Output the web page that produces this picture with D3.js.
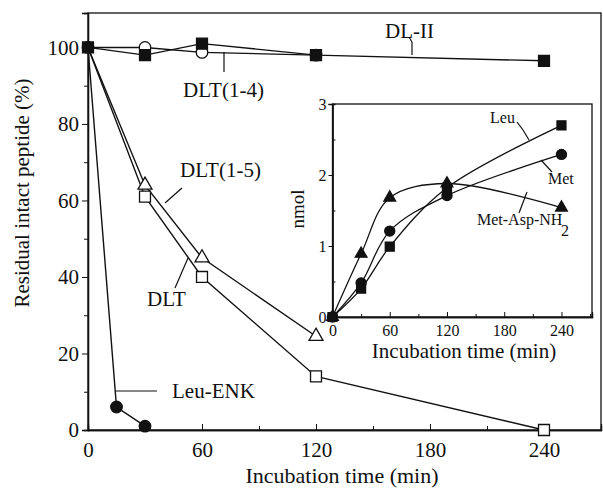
<!DOCTYPE html>
<html><head><meta charset="utf-8">
<script src="https://cdn.jsdelivr.net/npm/d3@7"></script>
<style>body{margin:0;background:#fff}svg{display:block}</style>
</head><body><svg id="c" width="603" height="502"></svg>
<script>
// ---- main chart data ----
const xTicks = [0, 60, 120, 180, 240];
const yTicks = [0, 20, 40, 60, 80, 100];
const dl2Time = [0, 30, 60, 120, 240];
const dl2Vals = [100, 98, 101, 98, 96.5];
const dlt14Time = [0, 30, 60, 120];
const dlt14Vals = [100, 100, 98.7, 98];
const dlt15Time = [0, 30, 60, 120];
const dlt15Vals = [100, 64, 45, 24.5];
const dltTime = [0, 30, 60, 120, 240];
const dltVals = [100, 61, 40, 14, 0];
const enkTime = [0, 15, 30];
const enkVals = [100, 6, 1];
// ---- inset data ----
const insetXTicks = [0, 60, 120, 180, 240];
const insetYTicks = [0, 1, 2, 3];
const insetTime = [0, 30, 60, 120, 240];
const leuVals = [0, 0.40, 0.99, 1.82, 2.70];
const metVals = [0, 0.48, 1.21, 1.71, 2.29];
const madVals = [0, 0.89, 1.68, 1.88, 1.54];

const FONT = "'Liberation Serif', 'DejaVu Serif', 'Times New Roman', serif";
const svg = d3.select("#c");
const x = d3.scaleLinear().domain([0, 270]).range([88, 601]);
const y = d3.scaleLinear().domain([0, 109]).range([430, 13]);

// frame
svg.append("rect").attr("x", 88).attr("y", 13).attr("width", 601 - 88).attr("height", 430 - 13)
  .attr("fill", "none").attr("stroke", "#111").attr("stroke-width", 1.3);

// axes
const gx = svg.append("g").attr("transform", "translate(0,430)")
  .call(d3.axisBottom(x).tickValues(xTicks).tickSize(-6).tickPadding(12).tickFormat(d3.format("d")));
const gy = svg.append("g").attr("transform", "translate(88,0)")
  .call(d3.axisLeft(y).tickValues(yTicks).tickSize(6).tickPadding(3).tickFormat(d3.format("d")));
svg.append("g").attr("transform", "translate(0,430)")
  .call(d3.axisBottom(x).tickValues([30, 90, 150, 210]).tickSize(-4).tickFormat(""));
svg.append("g").attr("transform", "translate(88,0)")
  .call(d3.axisLeft(y).tickValues([10, 30, 50, 70, 90]).tickSize(4).tickFormat(""));
svg.selectAll(".domain").attr("stroke", "#111").attr("stroke-width", 1.3);
svg.selectAll(".tick line").attr("stroke", "#111");
gx.selectAll("text").attr("font-size", 21).attr("dy", "0.71em");
gy.selectAll("text").attr("font-size", 21);

svg.append("text").attr("x", 342).attr("y", 483).attr("text-anchor", "middle").attr("font-size", 22)
  .text("Incubation time (min)");
svg.append("text").attr("transform", "translate(29,193) rotate(-90)").attr("text-anchor", "middle")
  .attr("font-size", 21).text("Residual intact peptide (%)");

function zip(t, v) { return t.map((d, i) => [d, v[i]]); }
const line = d3.line().x(d => x(d[0])).y(d => y(d[1]));
function drawLine(data) {
  svg.append("path").attr("d", line(data)).attr("fill", "none").attr("stroke", "#111").attr("stroke-width", 1.4);
}
const sq = d3.symbol().type(d3.symbolSquare);
const ci = d3.symbol().type(d3.symbolCircle);
const tr = d3.symbol().type(d3.symbolTriangle);
function drawMarks(g, data, sx, sy, gen, size, fill) {
  g.selectAll(null).data(data).enter().append("path")
    .attr("transform", d => `translate(${sx(d[0])},${sy(d[1])})`)
    .attr("d", gen.size(size)())
    .attr("fill", fill).attr("stroke", "#111").attr("stroke-width", 1.3);
}

const dlt = zip(dltTime, dltVals), dlt15 = zip(dlt15Time, dlt15Vals), dlt14 = zip(dlt14Time, dlt14Vals),
      dl2 = zip(dl2Time, dl2Vals), enk = zip(enkTime, enkVals);
[enk, dlt, dlt15, dlt14, dl2].forEach(drawLine);
drawMarks(svg, dlt.slice(1), x, y, sq, 120, "#fff");
drawMarks(svg, dlt15.slice(1), x, y, tr, 85, "#fff");
drawMarks(svg, dlt14, x, y, ci, 105, "#fff");
drawMarks(svg, enk.slice(1), x, y, ci, 105, "#111");
drawMarks(svg, dl2, x, y, sq, 120, "#111");

// labels + leaders
function lbl(tx, ty, s, fs) { svg.append("text").attr("x", tx).attr("y", ty).attr("font-size", fs).text(s); }
function seg(x1, y1, x2, y2) {
  svg.append("line").attr("x1", x1).attr("y1", y1).attr("x2", x2).attr("y2", y2).attr("stroke", "#111").attr("stroke-width", 1.2);
}
lbl(385, 38, "DL-II", 21); seg(412, 55, 412, 42); seg(412, 42, 409, 37);
lbl(183, 97, "DLT(1-4)", 21); seg(224, 52, 224, 72);
lbl(180, 177, "DLT(1-5)", 21); seg(182, 188, 165, 203);
lbl(147, 306, "DLT", 21); seg(188, 258, 175, 288);
lbl(172, 398, "Leu-ENK", 21); seg(115, 391, 157, 391);

// ---- inset ----
const ix = d3.scaleLinear().domain([0, 272]).range([332.5, 592]);
const iy = d3.scaleLinear().domain([0, 3]).range([317, 104]);
const ins = svg.append("g");
ins.append("rect").attr("x", 332.5).attr("y", 104).attr("width", 592 - 332.5).attr("height", 317 - 104)
  .attr("fill", "#fff").attr("stroke", "#111").attr("stroke-width", 1.3);
const igx = ins.append("g").attr("transform", "translate(0,317)")
  .call(d3.axisBottom(ix).tickValues(insetXTicks).tickSize(-5).tickPadding(8).tickFormat(d3.format("d")));
ins.append("g").attr("transform", "translate(0,317)")
  .call(d3.axisBottom(ix).tickValues([30, 90, 150, 210, 270]).tickSize(-3).tickFormat(""));
const igy = ins.append("g").attr("transform", "translate(332.5,0)")
  .call(d3.axisLeft(iy).tickValues(insetYTicks).tickSize(4).tickPadding(2).tickFormat(d3.format("d")));
ins.append("g").attr("transform", "translate(332.5,0)")
  .call(d3.axisLeft(iy).tickValues([0.5, 1.5, 2.5]).tickSize(-3).tickFormat(""));
ins.selectAll(".domain").attr("stroke", "#111").attr("stroke-width", 1.3);
ins.selectAll(".tick line").attr("stroke", "#111");
igx.selectAll("text").attr("font-size", 16).attr("dy", "0.71em");
igy.selectAll("text").attr("font-size", 16);
ins.append("text").attr("x", 464).attr("y", 358).attr("text-anchor", "middle").attr("font-size", 21)
  .text("Incubation time (min)");
ins.append("text").attr("transform", "translate(304,209) rotate(-90)").attr("text-anchor", "middle")
  .attr("font-size", 19).text("nmol");

const iline = d3.line().x(d => ix(d[0])).y(d => iy(d[1])).curve(d3.curveCatmullRom.alpha(0.5));
const leu = zip(insetTime, leuVals), met = zip(insetTime, metVals), mad = zip(insetTime, madVals);
[leu, met, mad].forEach(dd => ins.append("path").attr("d", iline(dd)).attr("fill", "none")
  .attr("stroke", "#111").attr("stroke-width", 1.3));
drawMarks(ins, mad, ix, iy, tr, 60, "#111");
drawMarks(ins, met, ix, iy, ci, 80, "#111");
drawMarks(ins, leu, ix, iy, sq, 80, "#111");

lbl(490, 123, "Leu", 16); seg(517, 122, 523, 130); seg(523, 130, 529, 140);
lbl(548, 184, "Met", 16); seg(541, 160, 552, 172);
lbl(477, 225, "Met-Asp-NH", 16); lbl(561, 236, "2", 16); seg(527, 192, 519, 213);

// font applied to every text element
svg.selectAll("text").attr("font-family", FONT).style("font-family", FONT).attr("fill", "#111").attr("font-weight", "normal");
</script></body></html>
